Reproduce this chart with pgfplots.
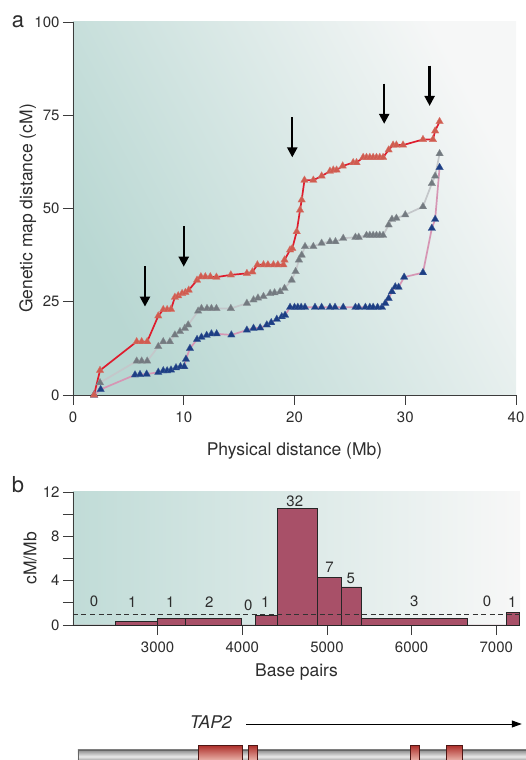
\documentclass[border=0pt]{standalone}
\usepackage{pgfplots}
\pgfplotsset{compat=1.18}
\usepackage{fontspec}
\setmainfont{TeX Gyre Heros}
\usetikzlibrary{arrows.meta}

\definecolor{txt}{RGB}{45,45,45}
\definecolor{axc}{RGB}{60,60,60}
\definecolor{redline}{RGB}{222,28,45}
\definecolor{redmark}{RGB}{208,92,80}
\definecolor{grayline}{RGB}{196,199,202}
\definecolor{graymark}{RGB}{115,122,128}
\definecolor{blueline}{RGB}{214,150,180}
\definecolor{bluemark}{RGB}{28,62,132}
\definecolor{bgdark}{RGB}{184,215,210}
\definecolor{bglight}{RGB}{246,247,247}
\definecolor{bardc}{RGB}{168,80,104}
\definecolor{exontop}{RGB}{175,50,45}
\definecolor{exonbot}{RGB}{248,210,200}

\tikzset{arr/.style={black, line width=2.3pt, -{Triangle[length=10pt,width=10pt]}}}
\pgfplotsset{
  myax/.style={
    scale only axis, clip=false,
    axis lines=left,
    axis line style={-, draw=axc, line width=0.8pt},
    every tick/.style={draw=axc, line width=0.8pt},
    tick align=outside,
    major tick length=10pt, minor tick length=10pt,
    xticklabel shift=3pt,
    tick label style={font=\fontsize{15}{18}\selectfont, text=txt},
    label style={font=\fontsize{17.5}{20}\selectfont, text=txt},
    /pgf/number format/assume math mode=true,
  },
  series/.style n args={2}{color=#1, line width=1.7pt,
    mark=triangle*, mark size=4.3pt,
    mark options={fill=#2, draw=#2!85!white, line width=0.3pt}},
}

\begin{document}
\begin{tikzpicture}
\useasboundingbox (0pt,0pt) rectangle (525pt,760pt);

\node[font=\fontsize{22}{24}\selectfont, text=txt] at (18pt,738pt) {a};
\node[font=\fontsize{22}{24}\selectfont, text=txt] at (18pt,275pt) {b};

% panel a
\begin{axis}[myax,
  at={(73pt,365pt)}, anchor=south west, width=443pt, height=373pt,
  xmin=0, xmax=40, ymin=0, ymax=100,
  xtick={0,10,20,30,40}, xticklabels={0,10,20,30,40},
  ytick={0,25,50,75,100}, yticklabels={0,25,50,75,100},
  xlabel={Physical distance (Mb)},
  ylabel={Genetic map distance (cM)},
  xlabel style={at={(axis description cs:0.5,0)}, anchor=center, yshift=-56pt},
  ylabel style={at={(axis description cs:-0.102,0.5)}, anchor=center},
  axis background/.style={shade, shading=axis, bottom color=bgdark, top color=bglight, shading angle=-62},
]
% grey
\addplot[series={grayline}{graymark}] coordinates {
(1.9,0)(2.44,3.3)
(5.75,9.1)(6.2,9.1)(6.7,9.1)
(7.7,13.0)(8.15,14.3)(8.75,14.3)
(9.2,16.1)(9.66,17.0)(10.1,17.9)(10.4,18.8)
(11.3,22.5)(11.6,23.2)(12.1,23.2)(12.5,23.2)(12.95,23.2)
(14.25,23.2)
(15.7,24.6)(16.3,25.5)(16.7,26.0)(17.2,26.4)(17.8,27.2)(18.2,27.4)(18.7,27.7)(19.1,28.6)
(19.75,30.8)(20.1,33.1)(20.4,36.2)(20.65,37.5)(20.95,39.8)
(21.7,39.8)(22.45,40.7)(23.2,41.1)(23.7,41.1)(24.4,42.0)
(25.5,42.3)(25.8,42.3)
(26.5,42.8)(26.8,42.8)(27.1,42.8)(27.4,42.8)(27.7,42.8)(28.0,42.8)
(28.5,45.6)(28.8,47.1)(29.2,47.4)
(30.0,48.3)(31.6,50.5)(32.4,56.7)(32.7,58.7)(33.1,64.7)
};
% blue
\addplot[series={blueline}{bluemark}] coordinates {
(1.9,0)(2.5,1.5)
(5.6,5.4)(6.05,5.5)(6.65,5.6)
(7.7,6.1)(8.15,6.5)(8.5,6.5)(8.85,6.7)
(9.3,7.3)(9.7,7.6)(10.05,7.6)
(10.2,9.6)(10.56,12.5)
(11.2,14.9)(11.6,15.5)(12.07,16.0)(12.5,16.4)(12.97,16.4)
(14.3,16.1)
(15.7,17.4)(16.3,17.9)(16.9,18.0)(17.5,18.8)
(17.9,19.4)(18.4,20.3)(18.85,21.0)(19.15,21.4)
(19.6,23.5)(20.0,23.5)(20.3,23.5)(20.6,23.5)(20.95,23.5)
(21.85,23.5)(22.45,23.5)(23.2,23.5)(23.66,23.5)(24.4,23.5)
(25.5,23.5)(25.8,23.5)
(26.4,23.5)(26.8,23.5)(27.1,23.5)(27.5,23.5)(27.9,23.5)
(28.2,24.6)(28.5,25.9)(28.8,27.7)(29.1,29.0)(29.4,28.9)
(29.9,31.6)(31.6,32.8)(32.4,44.7)(32.7,47.1)(33.1,61.0)
};
% red
\addplot[series={redline}{redmark}] coordinates {
(1.9,0)(2.44,6.6)
(5.75,14.3)(6.2,14.3)(6.7,14.3)
(7.7,21.2)(8.15,22.9)(8.5,22.9)(8.85,23.0)
(9.2,26.2)(9.5,26.6)(9.85,27.2)(10.15,27.5)(10.45,28.1)
(11.2,30.8)(11.55,31.7)(11.95,31.7)(12.4,31.7)(12.95,31.6)
(14.25,32.2)
(15.7,32.6)(16.2,33.0)
(16.65,34.9)(17.2,34.9)(17.6,34.9)(18.1,34.9)(18.5,34.9)(19.0,34.9)
(19.1,36.2)(19.6,38.9)(19.8,39.3)
(20.2,43.8)(20.5,49.6)(20.65,52.3)(20.9,57.6)
(21.7,57.6)(22.45,58.7)
(23.2,60.0)(23.5,60.3)(23.8,60.3)
(24.35,61.4)(25.3,62.3)(25.6,62.3)
(26.2,63.7)(26.5,63.7)(26.8,63.7)(27.1,63.7)(27.4,63.7)(27.7,63.7)(28.0,63.7)
(28.5,65.7)(28.9,67.0)(29.2,67.0)(29.8,67.0)
(31.6,68.5)(32.5,68.5)(32.7,70.8)(33.1,73.3)
};
\draw[arr] (axis cs:6.5,34.5) -- (axis cs:6.5,23.7);
\draw[arr] (axis cs:10.0,45.2) -- (axis cs:10.0,34.4);
\draw[arr] (axis cs:19.8,74.5) -- (axis cs:19.8,63.7);
\draw[arr] (axis cs:28.1,83.5) -- (axis cs:28.1,72.7);
\draw[arr] (axis cs:32.2,88.3) -- (axis cs:32.2,77.5);
\end{axis}

% panel b
\begin{axis}[myax,
  at={(73pt,135pt)}, anchor=south west, width=447pt, height=133pt,
  xmin=2000, xmax=7280, ymin=0, ymax=12,
  xtick={3000,4000,5000,6000,7000}, xticklabels={3000,4000,5000,6000,7000},
  ytick={0,4,8,12}, yticklabels={0,4,8,12},
  minor ytick={2,6,10},
  xlabel={Base pairs}, ylabel={cM/Mb},
  xlabel style={at={(axis description cs:0.5,0)}, anchor=center, yshift=-47pt},
  ylabel style={at={(axis description cs:-0.096,0.5)}, anchor=center},
  axis background/.style={shade, shading=axis, left color=bgdark!88!white, right color=white!97!black},
]
\addplot[ybar interval, fill=bardc, draw=black!85, line width=0.7pt] coordinates {
(2000,0)(2500,0.35)(3000,0.57)(3322,0.57)(3990,0)(4153,0.84)(4410,10.53)
(4886,4.27)(5169,3.43)(5402,0.57)(6661,0)(7122,1.14)(7276,1.14)
};
\addplot[black!80, line width=0.8pt, dash pattern=on 5pt off 3.5pt] coordinates {(2000,0.97)(7280,0.97)};
\node[font=\fontsize{15}{18}\selectfont, text=txt] at (axis cs:2250,2.1) {0};
\node[font=\fontsize{15}{18}\selectfont, text=txt] at (axis cs:2700,2.1) {1};
\node[font=\fontsize{15}{18}\selectfont, text=txt] at (axis cs:3150,2.1) {1};
\node[font=\fontsize{15}{18}\selectfont, text=txt] at (axis cs:3610,2.1) {2};
\node[font=\fontsize{15}{18}\selectfont, text=txt] at (axis cs:4070,1.8) {0};
\node[font=\fontsize{15}{18}\selectfont, text=txt] at (axis cs:4270,2.1) {1};
\node[font=\fontsize{15}{18}\selectfont, text=txt] at (axis cs:4620,11.2) {32};
\node[font=\fontsize{15}{18}\selectfont, text=txt] at (axis cs:5030,5.2) {7};
\node[font=\fontsize{15}{18}\selectfont, text=txt] at (axis cs:5280,4.2) {5};
\node[font=\fontsize{15}{18}\selectfont, text=txt] at (axis cs:6030,2.1) {3};
\node[font=\fontsize{15}{18}\selectfont, text=txt] at (axis cs:6890,2.1) {0};
\node[font=\fontsize{15}{18}\selectfont, text=txt] at (axis cs:7190,2.1) {1};
\end{axis}

% gene diagram
\begin{axis}[
  at={(73pt,0pt)}, anchor=south west, scale only axis, width=447pt, height=40pt,
  xmin=2000, xmax=7280, ymin=0, ymax=40, hide axis, clip=false,
]
\addplot[draw=black!60, line width=0.5pt, top color=black!45, bottom color=black!55, middle color=white!92!black]
  coordinates {(2059,-3)(2059,10)(7400,10)(7400,-3)} -- cycle;
\addplot[draw=black!55!exontop, line width=0.6pt, top color=exontop, bottom color=exonbot]
  coordinates {(3479,-4)(3479,14.3)(3998,14.3)(3998,-4)} -- cycle;
\addplot[draw=black!55!exontop, line width=0.6pt, top color=exontop, bottom color=exonbot]
  coordinates {(4069,-4)(4069,14.3)(4175,14.3)(4175,-4)} -- cycle;
\addplot[draw=black!55!exontop, line width=0.6pt, top color=exontop, bottom color=exonbot]
  coordinates {(5981,-4)(5981,14.3)(6088,14.3)(6088,-4)} -- cycle;
\addplot[draw=black!55!exontop, line width=0.6pt, top color=exontop, bottom color=exonbot]
  coordinates {(6406,-4)(6406,14.3)(6595,14.3)(6595,-4)} -- cycle;
\node[font=\itshape\fontsize{17.5}{20}\selectfont, text=txt] at (axis cs:3627,38.3) {TAP2};
\draw[black, line width=0.9pt, -{Triangle[length=10pt,width=7pt]}] (axis cs:4046,36) -- (axis cs:7301,36);
\end{axis}
\end{tikzpicture}
\end{document}
